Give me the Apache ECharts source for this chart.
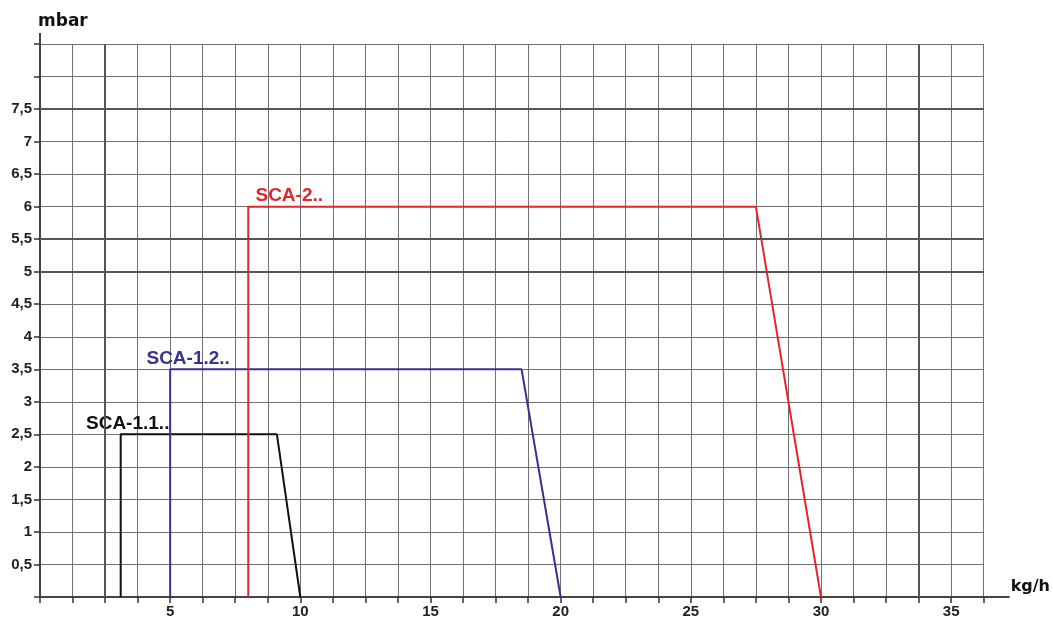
<!DOCTYPE html>
<html>
<head>
<meta charset="utf-8">
<title>SCA pressure / flow ranges</title>
<script src="https://cdn.jsdelivr.net/npm/echarts@6/dist/echarts.min.js"></script>
<style>
  html, body { margin: 0; padding: 0; background: #ffffff; }
  #chart { width: 1053px; height: 619px; }
</style>
</head>
<body>
<div id="chart"></div>
<script>
// Operating envelopes: flow (kg/h) against pressure (mbar)
const seriesNames = ['SCA-1.1..', 'SCA-1.2..', 'SCA-2..'];
const seriesColors = ['#111111', '#34348c', '#e3262b'];

const sca11Flow = [3.1, 3.1, 9.1, 10];
const sca11Pressure = [0, 2.5, 2.5, 0];

const sca12Flow = [5, 5, 18.5, 20];
const sca12Pressure = [0, 3.5, 3.5, 0];

const sca2Flow = [8, 8, 27.5, 30];
const sca2Pressure = [0, 6, 6, 0];

// Tick labels shown on the axes
const xTickLabels = [5, 10, 15, 20, 25, 30, 35];
const yTickLabels = ['0,5', '1', '1,5', '2', '2,5', '3', '3,5', '4', '4,5', '5', '5,5', '6', '6,5', '7', '7,5'];

// Darker rulings of the grid paper
const heavyX = [2.5, 33.75];
const heavyY = [5, 5.5, 7.5];

// Horizontal shift of each name tag from the corner it sits on
const labelShift = [7, 18, 41];

function fmtY(v) {
  return String(v).replace('.', ',');
}

const flows = [sca11Flow, sca12Flow, sca2Flow];
const pressures = [sca11Pressure, sca12Pressure, sca2Pressure];

const lineSeries = seriesNames.map(function (name, i) {
  const data = flows[i].map(function (x, k) {
    const item = { value: [x, pressures[i][k]] };
    if (k === 1) {
      item.label = {
        show: true,
        formatter: name,
        position: [labelShift[i], -1],
        align: 'center',
        verticalAlign: 'bottom',
        color: seriesColors[i],
        fontFamily: 'Liberation Sans',
        fontWeight: 'bold',
        fontSize: 19
      };
    }
    return item;
  });
  return {
    name: name,
    type: 'line',
    data: data,
    symbol: 'circle',
    symbolSize: 0,
    showSymbol: true,
    showAllSymbol: true,
    z: 3,
    itemStyle: { color: seriesColors[i] },
    lineStyle: { color: seriesColors[i], width: 2 },
    label: { show: false },
    animation: false
  };
});

const rulingSeries = {
  type: 'line',
  data: [],
  z: 1,
  silent: true,
  markLine: {
    silent: true,
    symbol: 'none',
    animation: false,
    label: { show: false },
    lineStyle: { color: '#555555', width: 2, type: 'solid' },
    data: heavyX.map(function (v) { return { xAxis: v }; })
      .concat(heavyY.map(function (v) { return { yAxis: v }; }))
  }
};

const chart = echarts.init(document.getElementById('chart'), null, { renderer: 'canvas' });

const option = {
  animation: false,
  backgroundColor: '#ffffff',
  grid: { left: 40, top: 44, right: 69, bottom: 20, containLabel: false },
  xAxis: {
    type: 'value',
    min: 0,
    max: 36.25,
    interval: 1.25,
    name: 'kg/h',
    nameLocation: 'end',
    nameGap: 27,
    nameTextStyle: {
      fontFamily: 'DejaVu Sans',
      fontWeight: 'bold',
      fontSize: 16,
      color: '#111',
      align: 'left',
      verticalAlign: 'bottom',
      padding: [0, 0, 2, 0]
    },
    axisLine: { show: true, onZero: false, lineStyle: { color: '#444', width: 2 } },
    axisTick: { show: true, length: 6, lineStyle: { color: '#333', width: 1.5 } },
    axisLabel: {
      margin: 7,
      fontFamily: 'Liberation Sans',
      fontWeight: 'bold',
      fontSize: 15,
      color: '#222',
      showMinLabel: true,
      showMaxLabel: true,
      formatter: function (v) {
        const r = Math.round(v * 100) / 100;
        return xTickLabels.indexOf(r) >= 0 ? String(r) : '';
      }
    },
    splitLine: { show: true, lineStyle: { color: '#707070', width: 1 } }
  },
  yAxis: {
    type: 'value',
    min: 0,
    max: 8.5,
    interval: 0.5,
    name: 'mbar',
    nameLocation: 'end',
    nameGap: 22,
    nameTextStyle: {
      fontFamily: 'DejaVu Sans',
      fontWeight: 'bold',
      fontSize: 17,
      color: '#111',
      align: 'left',
      verticalAlign: 'middle',
      padding: [0, 0, 0, -2]
    },
    axisLine: { show: true, onZero: false, lineStyle: { color: '#444', width: 2 } },
    axisTick: { show: true, length: 6, lineStyle: { color: '#333', width: 1.5 } },
    axisLabel: {
      margin: 8,
      fontFamily: 'Liberation Sans',
      fontWeight: 'bold',
      fontSize: 15,
      color: '#222',
      formatter: function (v) {
        const s = fmtY(Math.round(v * 100) / 100);
        return yTickLabels.indexOf(s) >= 0 ? s : '';
      }
    },
    splitLine: { show: true, lineStyle: { color: '#707070', width: 1 } }
  },
  series: [rulingSeries].concat(lineSeries)
};

chart.setOption(option);

// Axis lines run a little past the plotting area
const xEnd = chart.convertToPixel({ gridIndex: 0 }, [36.25, 0]);
const yEnd = chart.convertToPixel({ gridIndex: 0 }, [0, 8.5]);
chart.setOption({
  graphic: [
    {
      type: 'line',
      silent: true,
      shape: { x1: xEnd[0], y1: xEnd[1], x2: xEnd[0] + 26, y2: xEnd[1] },
      style: { stroke: '#444', lineWidth: 2 },
      z: 10
    },
    {
      type: 'line',
      silent: true,
      shape: { x1: yEnd[0], y1: yEnd[1], x2: yEnd[0], y2: yEnd[1] - 11 },
      style: { stroke: '#444', lineWidth: 2 },
      z: 10
    }
  ]
});
</script>
</body>
</html>
